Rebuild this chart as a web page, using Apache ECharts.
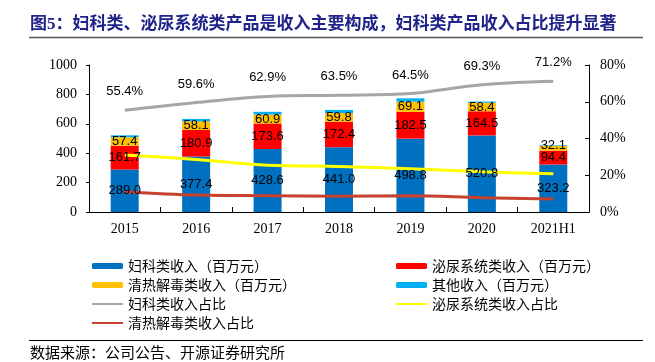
<!DOCTYPE html>
<html>
<head>
<meta charset="utf-8">
<script src="https://cdn.jsdelivr.net/npm/echarts@6/dist/echarts.min.js"></script>
<style>html,body{margin:0;padding:0;background:#fff;}#c{width:655px;height:362px;}</style>
</head>
<body>
<div id="c"></div>
<script>
const categories = ['2015', '2016', '2017', '2018', '2019', '2020', '2021H1'];
const gynRevenue = [289.0, 377.4, 428.6, 441.0, 498.8, 520.8, 323.2];
const uroRevenue = [161.7, 180.9, 173.6, 172.4, 182.5, 164.5, 94.4];
const heatRevenue = [57.4, 58.1, 60.9, 59.8, 69.1, 58.4, 32.1];
const otherRevenue = [13.6, 16.8, 18.3, 21.3, 22.9, 7.8, 4.2];
const gynShare = [55.4, 59.6, 62.9, 63.5, 64.5, 69.3, 71.2];
const uroShare = [31.0, 28.6, 25.5, 24.8, 23.6, 21.9, 20.8];
const heatShare = [11.0, 9.2, 8.9, 8.6, 8.9, 7.8, 7.1];
const seriesNames = ['妇科类收入（百万元）', '泌尿系统类收入（百万元）', '清热解毒类收入（百万元）', '其他收入（百万元）', '妇科类收入占比', '泌尿系统类收入占比', '清热解毒类收入占比'];
const titleText = '图5：妇科类、泌尿系统类产品是收入主要构成，妇科类产品收入占比提升显著';
const footerText = '数据来源：公司公告、开源证券研究所';

const cjk = '"Noto Sans CJK SC", sans-serif';
const serif = '"Liberation Serif", "Times New Roman", serif';
const sans = '"Liberation Sans", Arial, sans-serif';

const barLabel = {
  show: true, position: 'inside', color: '#000', fontSize: 13, fontFamily: sans,
  formatter: p => p.value.toFixed(1)
};

function barSeries(name, data, color) {
  return {
    name, type: 'bar', stack: 'rev', data, barWidth: 28, barGap: '-100%',
    itemStyle: { color }, label: { show: false },
    emphasis: { disabled: true }, z: 2
  };
}
// transparent overlay of the same stacked values, carrying the value labels above the lines
function labelSeries(name, data) {
  return {
    name: name + ' ', type: 'bar', stack: 'labels', data, barWidth: 28, barGap: '-100%',
    itemStyle: { color: 'rgba(0,0,0,0)' }, label: barLabel,
    emphasis: { disabled: true }, silent: true, z: 10
  };
}
function lineSeries(name, data, color, extra) {
  return Object.assign({
    name, type: 'line', yAxisIndex: 1, data, smooth: 0.35,
    symbol: 'none', lineStyle: { color, width: 3 }, itemStyle: { color },
    emphasis: { disabled: true }, z: 5
  }, extra || {});
}

const heatData = heatRevenue.map((v, i) => i === 6 ? { value: v, label: { offset: [0, -3] } } : v);
const lineLegend = name => ({ name, itemStyle: { opacity: 0 } });

const chart = echarts.init(document.getElementById('c'));
chart.setOption({
  animation: false,
  grid: { left: 89, right: 66, top: 65, bottom: 150, containLabel: false },
  legend: [
    {
      orient: 'vertical', left: 86, top: 254, itemWidth: 31, itemHeight: 6, itemGap: 5,
      textStyle: { fontFamily: cjk, fontSize: 14, color: '#000' },
      data: [seriesNames[0], seriesNames[2], lineLegend(seriesNames[4]), lineLegend(seriesNames[6])]
    },
    {
      orient: 'vertical', left: 390, top: 254, itemWidth: 31, itemHeight: 6, itemGap: 5,
      textStyle: { fontFamily: cjk, fontSize: 14, color: '#000' },
      data: [seriesNames[1], seriesNames[3], lineLegend(seriesNames[5])]
    }
  ],
  xAxis: {
    type: 'category', data: categories,
    axisLine: { lineStyle: { color: '#000', width: 1 } },
    axisTick: { show: true, inside: true, length: 5, lineStyle: { color: '#000' } },
    axisLabel: { color: '#000', fontFamily: serif, fontSize: 14, margin: 10 }
  },
  yAxis: [
    {
      type: 'value', min: 0, max: 1000, interval: 200,
      axisLine: { show: true, lineStyle: { color: '#000' } },
      axisTick: { show: true, length: 3, lineStyle: { color: '#000' } },
      axisLabel: { color: '#000', fontFamily: serif, fontSize: 14, margin: 12, formatter: v => String(v) },
      splitLine: { show: false }
    },
    {
      type: 'value', min: 0, max: 80, interval: 20, position: 'right',
      axisLine: { show: true, lineStyle: { color: '#000' } },
      axisTick: { show: true, inside: true, length: 4, lineStyle: { color: '#000' } },
      axisLabel: { color: '#000', fontFamily: serif, fontSize: 14, margin: 11, formatter: '{value}%' },
      splitLine: { show: false }
    }
  ],
  series: [
    barSeries(seriesNames[0], gynRevenue, '#0070C0'),
    barSeries(seriesNames[1], uroRevenue, '#FF0000'),
    barSeries(seriesNames[2], heatRevenue, '#FFC000'),
    barSeries(seriesNames[3], otherRevenue, '#00B0F0'),
    lineSeries(seriesNames[4], gynShare, '#A6A6A6', {
      symbol: 'circle', symbolSize: 0, showSymbol: true,
      label: { show: true, position: 'top', distance: 12, color: '#000', fontSize: 13, fontFamily: sans,
        formatter: p => p.value.toFixed(1) + '%' }
    }),
    lineSeries(seriesNames[5], uroShare, '#FFFF00'),
    lineSeries(seriesNames[6], heatShare, '#C8412E'),
    labelSeries(seriesNames[0], gynRevenue),
    labelSeries(seriesNames[1], uroRevenue),
    labelSeries(seriesNames[2], heatData)
  ],
  graphic: [
    { type: 'text', left: 30, top: 16, style: { text: titleText, fontSize: 17, fontWeight: 'bold', fontFamily: serif + ',' + cjk, fill: '#20248A' } },
    { type: 'line', shape: { x1: 29, y1: 37.5, x2: 643, y2: 37.5 }, style: { stroke: '#555', lineWidth: 1.5 } },
    { type: 'line', shape: { x1: 29, y1: 340.5, x2: 643, y2: 340.5 }, style: { stroke: '#000', lineWidth: 1 } },
    { type: 'text', left: 30, top: 345, style: { text: footerText, fontSize: 15, fontFamily: cjk, fill: '#000' } }
  ]
});
</script>
</body>
</html>
